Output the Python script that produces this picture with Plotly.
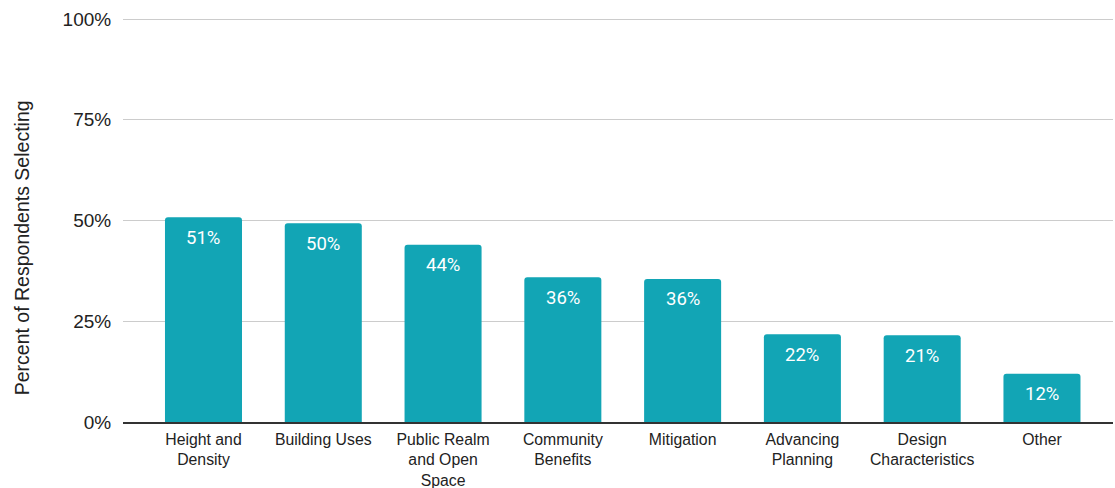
import plotly.graph_objects as go

categories = ["Height and<br>Density", "Building Uses", "Public Realm<br>and Open<br>Space",
              "Community<br>Benefits", "Mitigation", "Advancing<br>Planning",
              "Design<br>Characteristics", "Other"]
values = [50.8, 49.3, 44.0, 35.9, 35.5, 21.8, 21.5, 12.0]
labels = ["51%", "50%", "44%", "36%", "36%", "22%", "21%", "12%"]
y_ticks = [0, 25, 50, 75, 100]
y_ticklabels = ["0%", "25%", "50%", "75%", "100%"]
y_title = "Percent of Respondents Selecting"

xs = list(range(len(categories)))

fig = go.Figure(go.Bar(
    x=xs, y=values,
    marker=dict(color="#12a5b5", line=dict(width=0)),
    width=0.643, hoverinfo="skip",
))

for xi, v, lab in zip(xs, values, labels):
    fig.add_annotation(x=xi, y=v, text=lab, showarrow=False, yshift=-20.5,
                       font=dict(family="Roboto", size=18.5, color="white"))

# y-axis title (placed as annotation to match its off-centre position)
fig.add_annotation(xref="paper", yref="paper", x=0, xshift=-101, y=0.43,
                   text=y_title, textangle=-90, showarrow=False,
                   xanchor="center", yanchor="middle",
                   font=dict(family="Liberation Sans, Arial", size=19.5, color="#222222"))

fig.update_layout(
    width=1115, height=488,
    margin=dict(l=123, r=2, t=18, b=66),
    plot_bgcolor="white", paper_bgcolor="white",
    barcornerradius=3,
    showlegend=False,
    xaxis=dict(
        tickmode="array", tickvals=xs, ticktext=categories,
        range=[-0.672, 7.593], showgrid=False, zeroline=False,
        showline=True, linecolor="#333333", linewidth=1.5,
        tickfont=dict(family="Liberation Sans, Arial", size=15.8, color="#222222"),
        ticks="outside", ticklen=2, tickcolor="rgba(0,0,0,0)",
        automargin=False,
    ),
    yaxis=dict(
        range=[0, 100.25], tickvals=y_ticks, ticktext=y_ticklabels,
        showgrid=True, gridcolor="#cccccc", gridwidth=1, zeroline=False,
        tickfont=dict(family="Liberation Sans, Arial", size=19, color="#222222"),
        ticks="outside", ticklen=7, tickcolor="rgba(0,0,0,0)",
        automargin=False,
    ),
)

fig.write_html("out.html", config={"displayModeBar": False},
               post_script="document.body.style.margin='0';document.body.style.overflow='hidden';")
